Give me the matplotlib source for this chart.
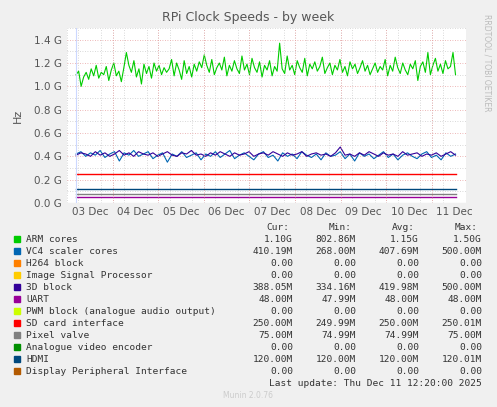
import matplotlib
matplotlib.use("Agg")
import matplotlib.pyplot as plt
import numpy as np
from matplotlib.ticker import MultipleLocator, FuncFormatter

# values in GHz
arm = [1.10,1.13,1.00,1.08,1.12,1.06,1.15,1.09,1.18,1.07,1.12,1.10,1.17,1.05,1.14,1.20,1.09,1.13,1.04,1.16,1.29,1.18,1.12,1.22,1.08,1.15,1.02,1.19,1.11,1.17,1.07,1.20,1.13,1.18,1.10,1.16,1.12,1.15,1.23,1.09,1.20,1.14,1.06,1.22,1.11,1.17,1.08,1.19,1.13,1.21,1.16,1.27,1.18,1.12,1.23,1.10,1.16,1.20,1.14,1.25,1.09,1.18,1.13,1.22,1.15,1.11,1.26,1.14,1.19,1.10,1.24,1.16,1.12,1.21,1.08,1.18,1.14,1.22,1.09,1.17,1.13,1.37,1.15,1.11,1.26,1.14,1.18,1.10,1.22,1.16,1.12,1.24,1.09,1.19,1.15,1.21,1.13,1.17,1.25,1.11,1.16,1.20,1.10,1.18,1.14,1.23,1.12,1.17,1.09,1.21,1.15,1.19,1.11,1.16,1.22,1.13,1.18,1.10,1.15,1.20,1.12,1.17,1.14,1.23,1.09,1.18,1.13,1.25,1.16,1.11,1.20,1.14,1.10,1.19,1.15,1.22,1.05,1.17,1.21,1.12,1.29,1.10,1.18,1.24,1.13,1.19,1.11,1.22,1.15,1.17,1.29,1.10]
vc4 = [0.42,0.44,0.40,0.43,0.41,0.45,0.39,0.42,0.44,0.36,0.43,0.41,0.45,0.40,0.42,0.44,0.38,0.41,0.43,0.35,0.42,0.40,0.44,0.39,0.41,0.43,0.37,0.42,0.40,0.44,0.39,0.42,0.45,0.38,0.41,0.43,0.40,0.37,0.42,0.44,0.39,0.41,0.36,0.43,0.40,0.42,0.38,0.44,0.41,0.39,0.42,0.37,0.43,0.40,0.41,0.44,0.38,0.42,0.36,0.43,0.40,0.42,0.38,0.41,0.44,0.39,0.42,0.37,0.41,0.43,0.40,0.38,0.42,0.44,0.39,0.41,0.37,0.43,0.40,0.42]
d3 = [0.41,0.43,0.42,0.40,0.44,0.41,0.43,0.40,0.42,0.45,0.41,0.43,0.40,0.44,0.42,0.41,0.43,0.40,0.42,0.44,0.41,0.40,0.43,0.42,0.45,0.41,0.42,0.40,0.43,0.41,0.44,0.42,0.40,0.43,0.41,0.42,0.44,0.40,0.42,0.43,0.41,0.44,0.42,0.40,0.43,0.41,0.42,0.44,0.40,0.42,0.43,0.41,0.42,0.40,0.43,0.48,0.41,0.42,0.40,0.43,0.41,0.44,0.42,0.40,0.43,0.41,0.42,0.40,0.44,0.41,0.42,0.43,0.40,0.42,0.41,0.43,0.40,0.42,0.44,0.41]
sd = 0.25; hdmi = 0.12; pixel = 0.075; uart = 0.048

names = ["ARM cores","VC4 scaler cores","H264 block","Image Signal Processor","3D block","UART",
         "PWM block (analogue audio output)","SD card interface","Pixel valve","Analogue video encoder",
         "HDMI","Display Peripheral Interface"]
colors = ["#00cc00","#0066b3","#ff8000","#ffcc00","#330099","#990099","#ccff00","#ff0000","#808080","#008f00","#00487d","#b35a00"]
cur = ["1.10G","410.19M","0.00","0.00","388.05M","48.00M","0.00","250.00M","75.00M","0.00","120.00M","0.00"]
mn  = ["802.86M","268.00M","0.00","0.00","334.16M","47.99M","0.00","249.99M","74.99M","0.00","120.00M","0.00"]
avg = ["1.15G","407.69M","0.00","0.00","419.98M","48.00M","0.00","250.00M","74.99M","0.00","120.00M","0.00"]
mx  = ["1.50G","500.00M","0.00","0.00","500.00M","48.00M","0.00","250.01M","75.00M","0.00","120.01M","0.00"]
day_labels = ["03 Dec","04 Dec","05 Dec","06 Dec","07 Dec","08 Dec","09 Dec","10 Dec","11 Dec"]

t0, t1 = 3.2, 11.54
fig = plt.figure(figsize=(4.97,4.07), dpi=100, facecolor="#f0f0f0")
W, H = 497, 407
ax = fig.add_axes([67/W, 1-203/H, (466-67)/W, (203-28)/H])
ax.set_facecolor("white")
for s in ax.spines.values(): s.set_visible(False)

def xs(n): return np.linspace(t0, t1-0.02, n)
ax.plot(xs(len(arm)), arm, color=colors[0], lw=0.8)
ax.plot(xs(len(vc4)), vc4, color=colors[1], lw=0.8)
ax.plot(xs(len(d3)), d3, color=colors[4], lw=0.8)
for v, c in [(sd,colors[7]),(hdmi,colors[10]),(pixel,colors[8]),(uart,colors[5])]:
    ax.plot([t0,t1-0.02],[v,v],color=c,lw=1)

ax.set_xlim(t0, t1); ax.set_ylim(0, 1.5)
ax.yaxis.set_major_locator(MultipleLocator(0.2))
ax.yaxis.set_minor_locator(MultipleLocator(0.1))
ax.yaxis.set_major_formatter(FuncFormatter(lambda v,p: f"{v:.1f} G"))
ax.set_xticks([d+0.5 for d in range(3,12)], day_labels)
ax.set_xticks([d+q/4 for d in range(3,12) for q in range(4)], minor=True)
ax.grid(which="minor", color="#cccccc", ls=(0,(1,2)), lw=0.6)
ax.grid(which="major", axis="y", color="#e8a0a0", ls=(0,(1,2)), lw=0.6)
for d in range(4,12):
    ax.axvline(d, color="#e8a0a0", ls=(0,(1,2)), lw=0.6)
ax.tick_params(axis="both", which="both", length=0, labelsize=7.5, colors="#555555")
ax.tick_params(axis="x", pad=3)
ax.axhline(0, color="#bbbbbb", lw=0.8); ax.axvline(t0, color="#ccd8ff", lw=0.8)
ax.set_ylabel("Hz", fontsize=8, color="#555555", labelpad=8)

fig.text(248/W, 1-18/H, "RPi Clock Speeds - by week", ha="center", va="center", fontsize=9, color="#555555")
fig.text(487/W, 1-63/H, "RRDTOOL / TOBI OETIKER", rotation=270, ha="center", va="center", fontsize=5.5, color="#bbbbbb")

mono = dict(family="DejaVu Sans Mono", fontsize=6.8, color="#333333", va="center")
cols = [293, 356, 419, 482]
for x, h in zip(cols, ["Cur:","Min:","Avg:","Max:"]):
    fig.text((x-4)/W, 1-227/H, h, ha="right", **mono)
for i, n in enumerate(names):
    y = 1-(239+12*i)/H
    fig.patches.append(plt.Rectangle((14/W, y-2.7/H), 6/W, 6/H, transform=fig.transFigure, color=colors[i]))
    fig.text(26/W, y, n, ha="left", **mono)
    for x, v in zip(cols, [cur[i], mn[i], avg[i], mx[i]]):
        fig.text(x/W, y, v, ha="right", **mono)
fig.text(482/W, 1-383/H, "Last update: Thu Dec 11 12:20:00 2025", ha="right", **mono)
fig.text(248/W, 1-396/H, "Munin 2.0.76", ha="center", va="center", fontsize=5.5, color="#cccccc")
fig.savefig("out.png", dpi=100, facecolor=fig.get_facecolor())
